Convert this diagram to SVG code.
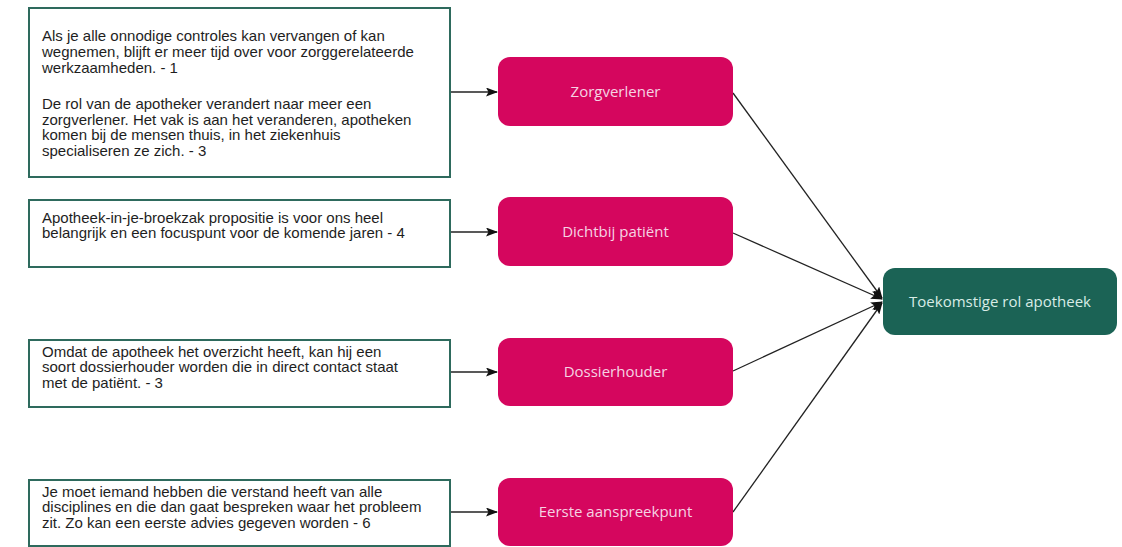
<svg xmlns="http://www.w3.org/2000/svg" width="1122" height="547" viewBox="0 0 1122 547">
  <defs>
    <marker id="arrow" markerWidth="12" markerHeight="9" refX="11" refY="4.5" orient="auto" markerUnits="userSpaceOnUse">
      <path d="M0,0 L12,4.5 L0,9 L2.5,4.5 Z" fill="#111"/>
    </marker>
    <style>
      .quote { fill: #ffffff; stroke: #2e6a5d; stroke-width: 2; }
      .quote-text { font-family: "Liberation Sans", Arial, sans-serif; font-size: 15px; fill: #1e1e1e; }
      .role { fill: #d5065e; }
      .role-text { font-family: "Open Sans", "Noto Sans", sans-serif; font-size: 15px; fill: #f6d3e3; text-anchor: middle; }
      .goal { fill: #1b6355; }
      .goal-text { font-family: "Open Sans", "Noto Sans", sans-serif; font-size: 15px; fill: #d8ece6; text-anchor: middle; }
      .link { stroke: #222; stroke-width: 1.3; fill: none; marker-end: url(#arrow); }
    </style>
  </defs>
  <rect width="1122" height="547" fill="#ffffff"/>

  <!-- connectors -->
  <g id="connectors">
    <line class="link" x1="450" y1="92" x2="497" y2="92"/>
    <line class="link" x1="450" y1="232" x2="497" y2="232"/>
    <line class="link" x1="450" y1="372" x2="497" y2="372"/>
    <line class="link" x1="450" y1="512" x2="497" y2="512"/>
    <line class="link" x1="733" y1="93" x2="882" y2="298"/>
    <line class="link" x1="733" y1="233" x2="882" y2="299"/>
    <line class="link" x1="733" y1="371" x2="882" y2="302"/>
    <line class="link" x1="733" y1="512" x2="882" y2="303"/>
  </g>

  <!-- quote boxes -->
  <g id="quote-1">
    <rect class="quote" x="29" y="8" width="421" height="169"/>
    <text class="quote-text">
      <tspan x="42" y="41">Als je alle onnodige controles kan vervangen of kan</tspan>
      <tspan x="42" y="57">wegnemen, blijft er meer tijd over voor zorggerelateerde</tspan>
      <tspan x="42" y="73">werkzaamheden. - 1</tspan>
      <tspan x="42" y="109">De rol van de apotheker verandert naar meer een</tspan>
      <tspan x="42" y="124.5">zorgverlener. Het vak is aan het veranderen, apotheken</tspan>
      <tspan x="42" y="140">komen bij de mensen thuis, in het ziekenhuis</tspan>
      <tspan x="42" y="156">specialiseren ze zich. - 3</tspan>
    </text>
  </g>
  <g id="quote-2">
    <rect class="quote" x="29" y="200" width="421" height="67"/>
    <text class="quote-text">
      <tspan x="42" y="222.5">Apotheek-in-je-broekzak propositie is voor ons heel</tspan>
      <tspan x="42" y="238">belangrijk en een focuspunt voor de komende jaren - 4</tspan>
    </text>
  </g>
  <g id="quote-3">
    <rect class="quote" x="29" y="340" width="421" height="67"/>
    <text class="quote-text">
      <tspan x="42" y="357">Omdat de apotheek het overzicht heeft, kan hij een</tspan>
      <tspan x="42" y="372">soort dossierhouder worden die in direct contact staat</tspan>
      <tspan x="42" y="387.5">met de patiënt. - 3</tspan>
    </text>
  </g>
  <g id="quote-4">
    <rect class="quote" x="29" y="480" width="421" height="66"/>
    <text class="quote-text">
      <tspan x="42" y="497">Je moet iemand hebben die verstand heeft van alle</tspan>
      <tspan x="42" y="512">disciplines en die dan gaat bespreken waar het probleem</tspan>
      <tspan x="42" y="527.5">zit. Zo kan een eerste advies gegeven worden - 6</tspan>
    </text>
  </g>

  <!-- roles -->
  <g id="role-zorgverlener">
    <rect class="role" x="498" y="57" width="235" height="69" rx="12"/>
    <text class="role-text" x="615.5" y="96.5">Zorgverlener</text>
  </g>
  <g id="role-dichtbij">
    <rect class="role" x="498" y="197" width="235" height="69" rx="12"/>
    <text class="role-text" x="615.5" y="236.5">Dichtbij patiënt</text>
  </g>
  <g id="role-dossierhouder">
    <rect class="role" x="498" y="338" width="235" height="68" rx="12"/>
    <text class="role-text" x="615.5" y="376.5">Dossierhouder</text>
  </g>
  <g id="role-aanspreekpunt">
    <rect class="role" x="498" y="478" width="235" height="68" rx="12"/>
    <text class="role-text" x="615.5" y="516.5">Eerste aanspreekpunt</text>
  </g>

  <!-- outcome -->
  <g id="toekomstige-rol">
    <rect class="goal" x="883" y="268" width="234" height="67" rx="12"/>
    <text class="goal-text" x="1000" y="306.5">Toekomstige rol apotheek</text>
  </g>
</svg>
